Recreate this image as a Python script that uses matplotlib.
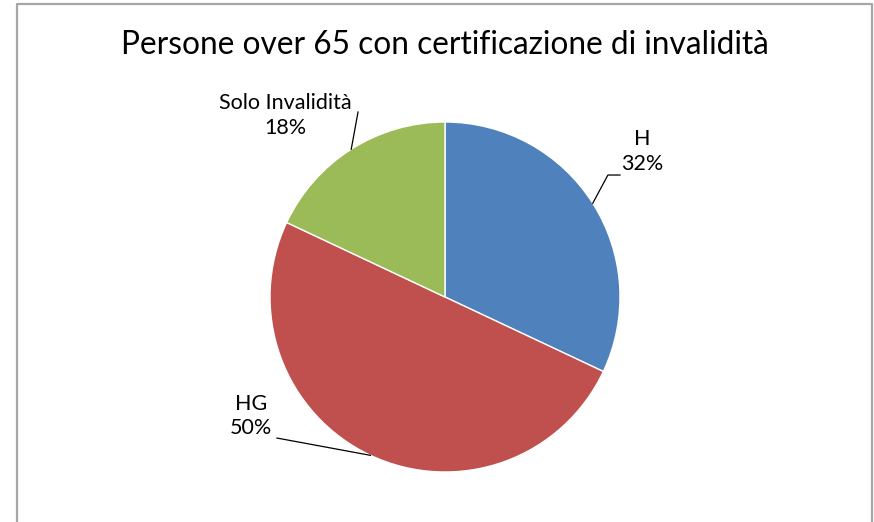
import numpy as np
import matplotlib
matplotlib.use("Agg")
import matplotlib.pyplot as plt

# Data
categories = ["H", "HG", "Solo Invalidità"]
shares = [32, 50, 18]
colors = ["#4F81BD", "#C0504D", "#9BBB59"]
title = "Persone over 65 con certificazione di invalidità"

# label block offsets (data units, radius = 1) and leader elbows
label_pos = [(1.126, 0.831), (-1.109, -0.680), (-0.914, 1.037)]
leader_mid = [(0.931, 0.697), (-0.960, -0.806), (-0.497, 1.057)]
leader_end = [(1.0, 0.697), None, None]

W, H = 874, 522
fig = plt.figure(figsize=(W / 100, H / 100), dpi=100)
fig.patch.set_facecolor("white")

# outer frame (no bottom edge visible)
fx0, fx1, fy1 = 17 / W, 872 / W, 1 - 4 / H
fig.add_artist(plt.Line2D([fx0, fx0, fx1, fx1], [0, fy1, fy1, 0],
                          transform=fig.transFigure, color="#A6A6A6", lw=1.6))

fig.text(445 / W, 1 - 45 / H, title, ha="center", va="center",
         fontsize=22.8, family="Lato", color="black")

cx, cy, r = 445, 297, 175
ax = fig.add_axes([(cx - r) / W, (H - cy - r) / H, 2 * r / W, 2 * r / H])
wedges, _ = ax.pie(shares, colors=colors, startangle=90, counterclock=False,
                   radius=1, wedgeprops=dict(linewidth=1, edgecolor="white"))
ax.set_xlim(-1, 1)
ax.set_ylim(-1, 1)
ax.set_aspect("equal")
ax.axis("off")

for i, w in enumerate(wedges):
    ang = np.deg2rad((w.theta1 + w.theta2) / 2)
    sx, sy = np.cos(ang), np.sin(ang)
    pts = [(sx, sy), leader_mid[i]]
    if leader_end[i] is not None:
        pts.append(leader_end[i])
    xs, ys = zip(*pts)
    ax.plot(xs, ys, color="black", lw=0.9, clip_on=False)
    lx, ly = label_pos[i]
    ax.text(lx, ly, "%s\n%d%%" % (categories[i], shares[i]), ha="center",
            va="center", fontsize=15.5, family="Lato", linespacing=1.3,
            clip_on=False)

fig.savefig("out.png", dpi=100)
